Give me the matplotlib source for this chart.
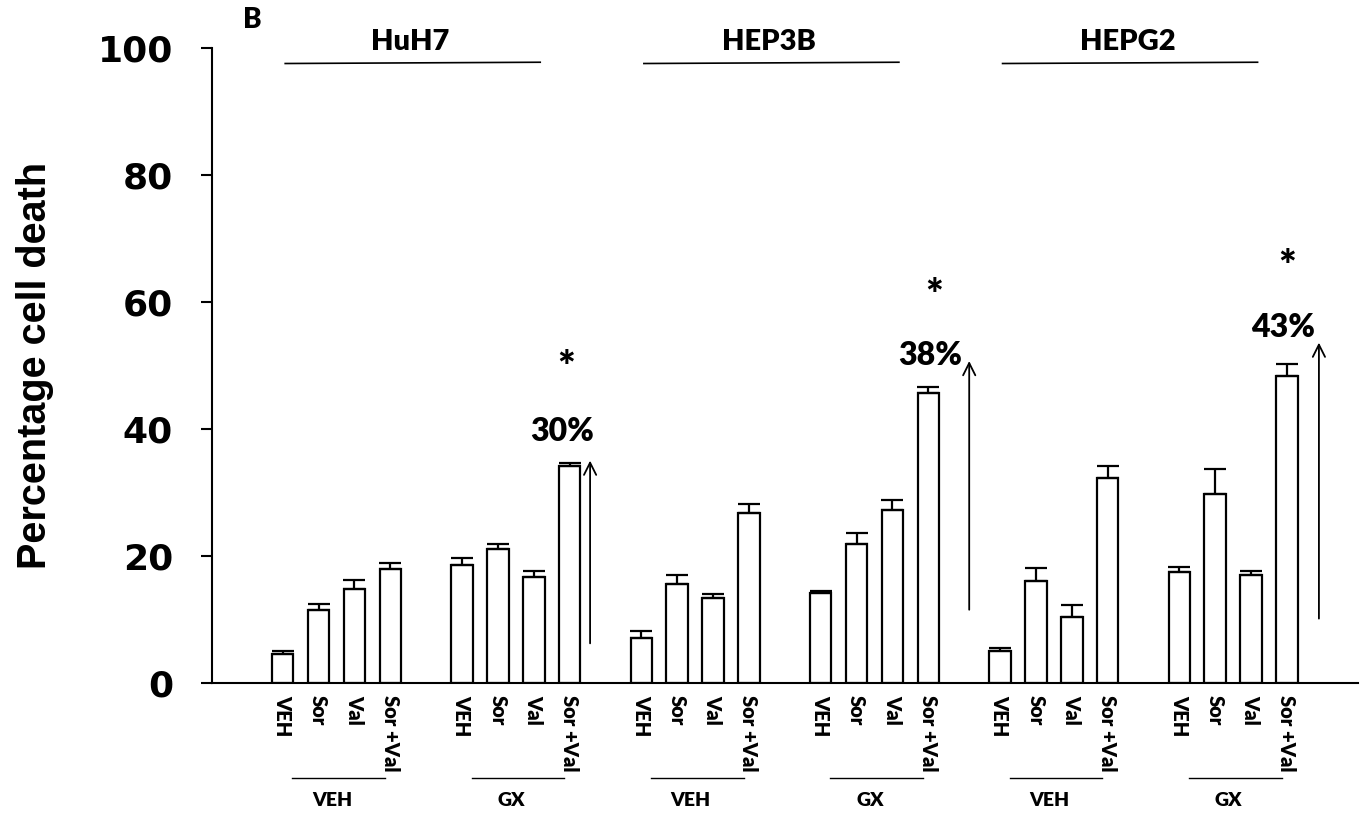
import numpy as np
import matplotlib
matplotlib.use("Agg")
import matplotlib.pyplot as plt

# categories
cell_lines = ["HuH7", "HEP3B", "HEPG2"]
pretreatments = ["VEH", "GX"]
treatments = ["VEH", "Sor", "Val", "Sor +Val"]

# percentage cell death (mean) per cell line, pretreatment block of 4 treatments
means = [
    [4.6, 11.4, 14.8, 17.9], [18.5, 21.0, 16.6, 34.2],   # HuH7
    [7.1, 15.5, 13.3, 26.8], [14.1, 21.9, 27.2, 45.7],   # HEP3B
    [5.0, 16.0, 10.4, 32.2], [17.4, 29.7, 17.0, 48.4],   # HEPG2
]
errors = [
    [0.4, 1.0, 1.4, 1.0], [1.1, 0.8, 1.0, 0.4],
    [1.0, 1.4, 0.7, 1.4], [0.3, 1.7, 1.6, 0.9],
    [0.5, 2.1, 1.9, 1.9], [0.8, 4.0, 0.6, 1.9],
]

# annotations for the Sor +Val / GX bars
pct_labels = ["30%", "38%", "43%"]
pct_x = [7.79, 18.05, 27.89]
pct_y = [39.6, 51.5, 56.0]
star_y = [50.2, 61.6, 66.1]
arrow_x = [8.57, 19.14, 28.89]
arrow_from = [6.2, 11.5, 10.1]
arrow_to = [35.0, 50.7, 53.6]

calibri_like = ["Lato", "DejaVu Sans"]
heavy = ["DejaVu Sans"]
label_font = ["Liberation Sans", "DejaVu Sans"]

fig = plt.figure(figsize=(13.68, 8.17), dpi=100)
ax = fig.add_axes([0.155, 0.1644, 0.8377, 0.7765])

slot = 5
vals = np.array(means).ravel()
errs = np.array(errors).ravel()
x = np.array([g * slot + i for g in range(len(means)) for i in range(4)], dtype=float)

ax.bar(x, vals, width=0.6, color="white", edgecolor="black", linewidth=1.6, zorder=2)
ax.errorbar(x, vals, yerr=[np.zeros_like(errs), errs], fmt="none", ecolor="black",
            elinewidth=1.6, capsize=8, capthick=1.6, zorder=3)

ax.set_xlim(-1.97, 29.98)
ax.set_ylim(0, 100)
ax.set_yticks([0, 20, 40, 60, 80, 100])
ax.set_yticklabels(["0", "20", "40", "60", "80", "100"], family=heavy,
                   fontweight="bold", fontsize=26)
ax.tick_params(axis="y", direction="out", length=8, width=1.5, pad=20)

ax.set_xticks(x)
ax.set_xticklabels(treatments * len(means), rotation=270, family=calibri_like,
                   fontweight="heavy", fontsize=14.5, va="top", ha="center")
ax.tick_params(axis="x", length=0, pad=9)

for side in ["top", "right"]:
    ax.spines[side].set_visible(False)
ax.spines["left"].set_linewidth(1.5)
ax.spines["bottom"].set_linewidth(1.5)

ax.set_ylabel("Percentage cell death", family=label_font, fontweight="bold",
              fontsize=28.5)
ax.yaxis.set_label_coords(-0.138, 0.50)

# cell line headers
for k, name in enumerate(cell_lines):
    s0 = 2 * k * slot
    ax.plot([s0 + 0.07, s0 + 7.18], [97.6, 97.8], color="black", lw=1.2, clip_on=False)
    ax.text(s0 + 3.55, 101.0, name, ha="center", va="center", family=calibri_like,
            fontweight="heavy", fontsize=21, clip_on=False)
ax.text(-0.85, 104.4, "B", ha="center", va="center", family=calibri_like,
        fontweight="heavy", fontsize=20, clip_on=False)

# pretreatment group labels under the axis
trans = ax.get_xaxis_transform()
for g in range(len(means)):
    s0 = g * slot
    ax.plot([s0 + 0.27, s0 + 2.85], [-0.150, -0.150], color="black", lw=1.0,
            transform=trans, clip_on=False)
    ax.text(s0 + 1.37, -0.185, pretreatments[g % 2], ha="center", va="center",
            transform=trans, family=calibri_like, fontweight="heavy", fontsize=14)

# significance annotations
for k in range(len(cell_lines)):
    ax.annotate("", xy=(arrow_x[k], arrow_to[k]), xytext=(arrow_x[k], arrow_from[k]),
                arrowprops=dict(arrowstyle="->", lw=1.3, color="black",
                                mutation_scale=22, shrinkA=0, shrinkB=0))
    ax.text(pct_x[k], pct_y[k], pct_labels[k], ha="center", va="center",
            family=calibri_like, fontweight="heavy", fontsize=23)
    ax.text(pct_x[k] + 0.1, star_y[k] - 0.8, "*", ha="center", va="center",
            family=calibri_like, fontweight="heavy", fontsize=30)

fig.savefig("out.png", dpi=100)
